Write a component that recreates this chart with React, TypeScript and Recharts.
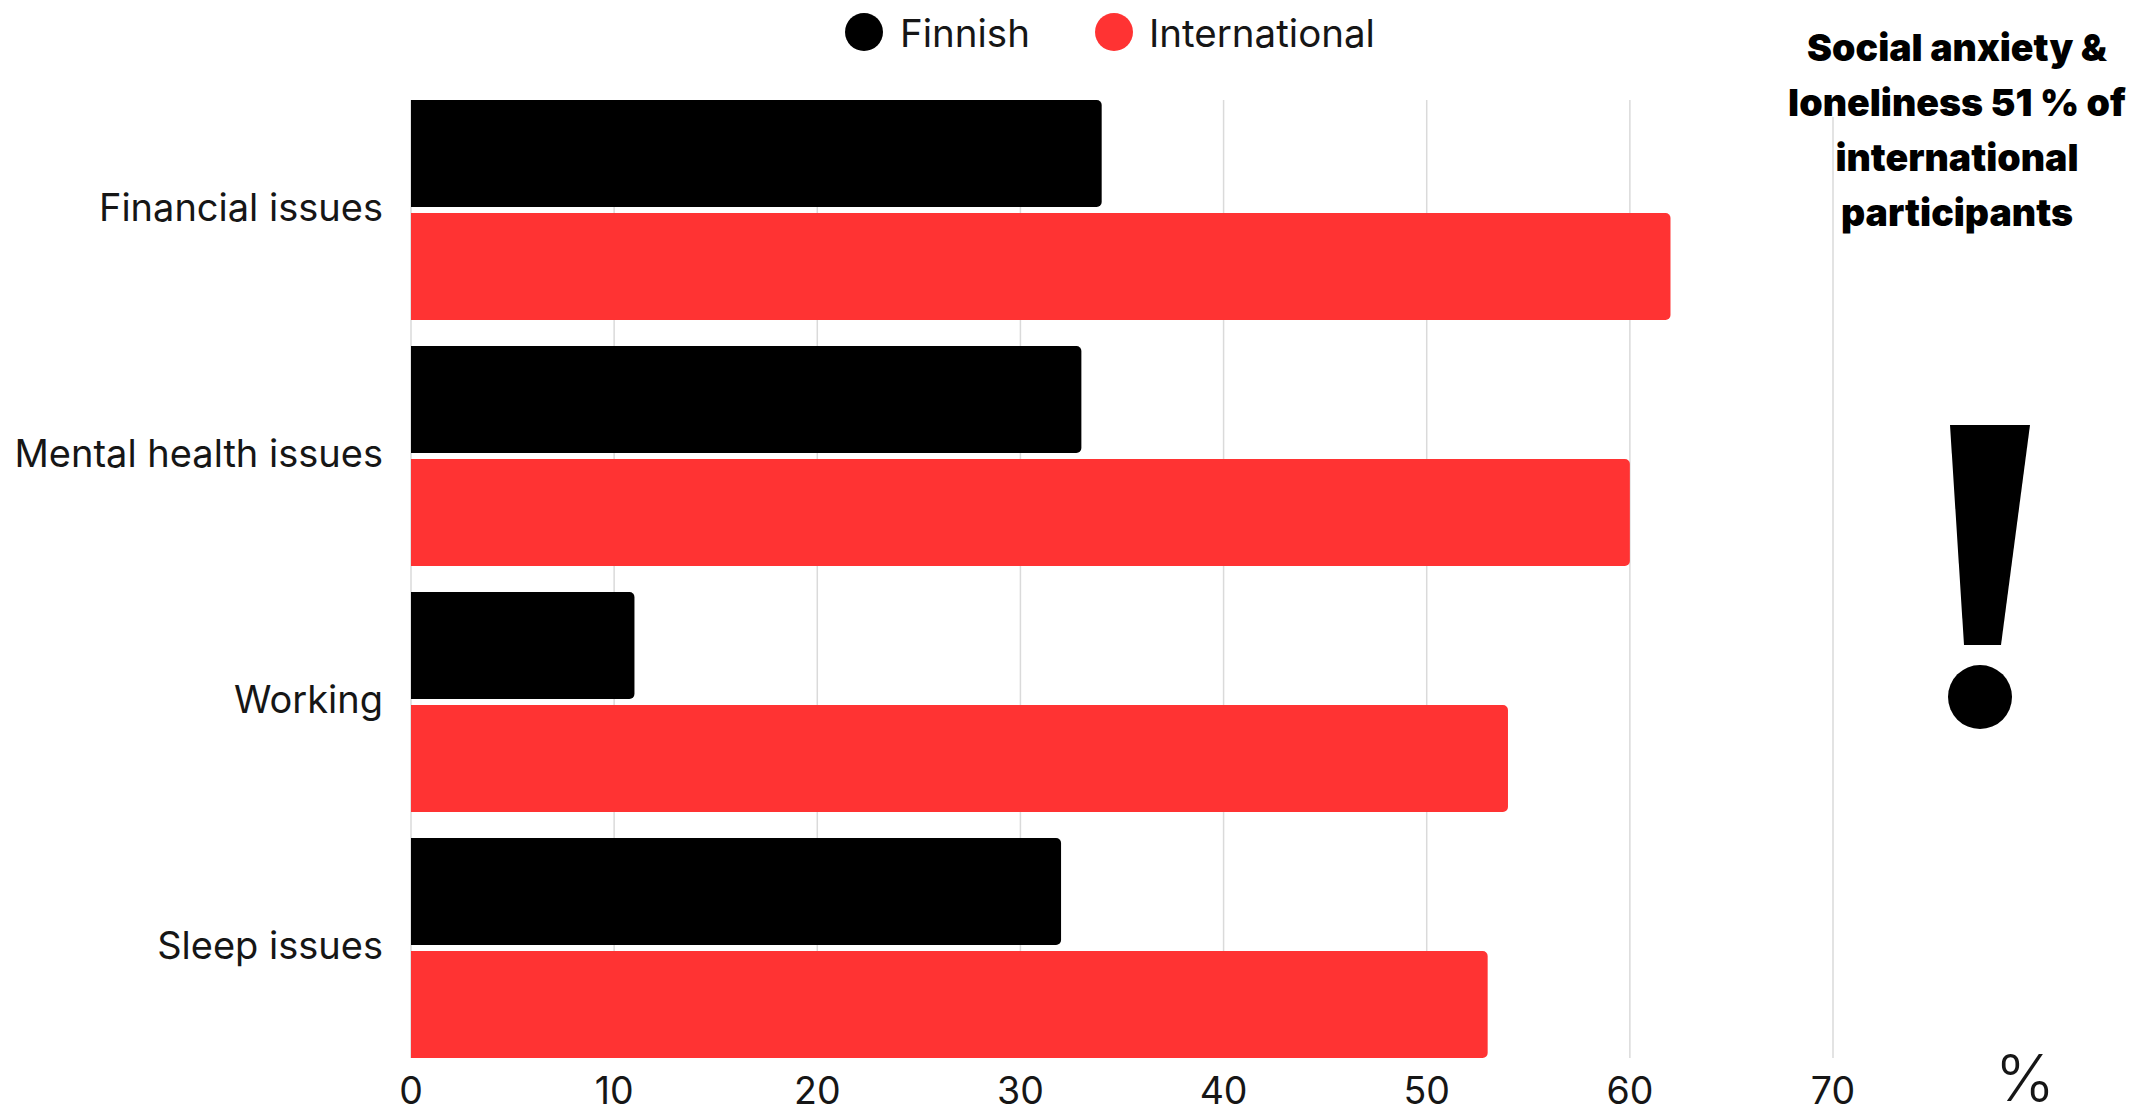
import React from "react";
import { BarChart, Bar, XAxis, YAxis, CartesianGrid, Legend, Customized } from "recharts";

const categories = ["Financial issues", "Mental health issues", "Working", "Sleep issues"];
const finnish = [34, 33, 11, 32];
const international = [62, 60, 54, 53];
const valueTicks = [0, 10, 20, 30, 40, 50, 60, 70];
const noteLines = ["Social anxiety &", "loneliness 51 % of", "international", "participants"];
const unitLabel = "%";

const rows = categories.map((name, i) => ({
  name,
  Finnish: finnish[i],
  International: international[i],
}));

const BLACK = "#000000";
const RED = "#FF3333";
const INK = "#161616";
const FONT = "Inter, sans-serif";

// Two-entry legend, laid out by hand so the markers sit a fixed distance from their names.
function LegendRow({ payload }: any) {
  const slots = [
    { dot: 864, text: 900 },
    { dot: 1113.5, text: 1149 },
  ];
  return (
    <div style={{ position: "relative", width: 2139, height: 64, fontFamily: FONT, fontSize: 38.5, color: INK }}>
      {(payload ?? []).map((entry: any, i: number) => (
        <React.Fragment key={entry.value}>
          <span
            style={{
              position: "absolute",
              left: slots[i].dot - 19,
              top: 13,
              width: 38,
              height: 38,
              borderRadius: "50%",
              background: entry.color,
            }}
          />
          <span style={{ position: "absolute", left: slots[i].text, top: 11, lineHeight: "44px" }}>
            {entry.value}
          </span>
        </React.Fragment>
      ))}
    </div>
  );
}

// Category label drawn a little above the centre of its band.
function CategoryTick({ x, y, payload }: any) {
  return (
    <text x={x} y={y - 2} dy="0.355em" textAnchor="end" fontFamily={FONT} fontSize={38} fill={INK}>
      {payload.value}
    </text>
  );
}

// Side note with the exclamation mark and the unit label next to the value axis.
function SideNote() {
  return (
    <g>
      <rect x={1826} y={96} width={14} height={21} fill="#ffffff" />
      {noteLines.map((line, i) => (
        <text
          key={line}
          x={1957}
          y={60.5 + i * 55}
          textAnchor="middle"
          fontFamily="Inter, sans-serif"
          fontWeight={900}
          fontSize={37.5}
          fill={BLACK}
        >
          {line}
        </text>
      ))}
      <polygon points="1950,425 2030,425 2001,645 1964,645" fill={BLACK} />
      <circle cx={1980} cy={697} r={32} fill={BLACK} />
      <text x={2025} y={1101} textAnchor="middle" fontFamily={FONT} fontWeight={300} fontSize={64} fill={INK}>
        {unitLabel}
      </text>
    </g>
  );
}

export default function App() {
  return (
    <div style={{ position: "absolute", left: 0, top: 0, width: 2139, height: 1117, background: "#ffffff", overflow: "hidden" }}>
      <BarChart
        width={2139}
        height={1117}
        data={rows}
        layout="vertical"
        margin={{ top: 36, right: 306, bottom: 0, left: 0 }}
        barSize={107}
        barGap={6}
      >
        <CartesianGrid horizontal={false} vertical stroke="#dadada" strokeWidth={1.5} />
        <XAxis
          type="number"
          domain={[0, 70]}
          ticks={valueTicks}
          axisLine={false}
          tickLine={false}
          tickSize={0}
          tickMargin={19}
          height={59}
          interval={0}
          tick={{ fontFamily: FONT, fontSize: 37.5, fill: INK }}
        />
        <YAxis
          type="category"
          dataKey="name"
          width={411}
          axisLine={false}
          tickLine={false}
          tickSize={0}
          tickMargin={28}
          interval={0}
          padding={{ top: -13, bottom: -13 }}
          tick={<CategoryTick />}
        />
        <Legend
          verticalAlign="top"
          content={<LegendRow />}
          wrapperStyle={{ position: "absolute", left: 0, top: 0, width: 2139, height: 64 }}
        />
        <Bar dataKey="Finnish" fill={BLACK} radius={[0, 5, 5, 0]} isAnimationActive={false} />
        <Bar dataKey="International" fill={RED} radius={[0, 5, 5, 0]} isAnimationActive={false} />
        <Customized component={SideNote} />
      </BarChart>
    </div>
  );
}
